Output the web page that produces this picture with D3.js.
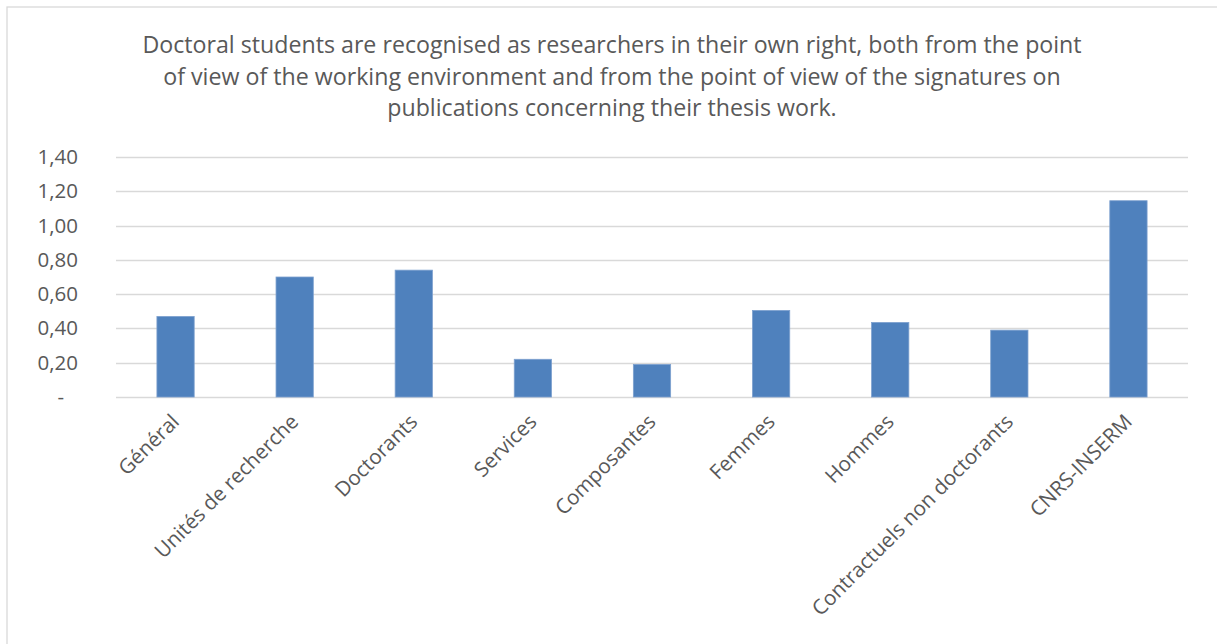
<!DOCTYPE html>
<html>
<head>
<meta charset="utf-8">
<script src="https://cdn.jsdelivr.net/npm/d3@7"></script>
<style>
  html, body { margin: 0; padding: 0; background: #fff; }
  svg { display: block; }
  text { font-family: "Open Sans", Lato, "DejaVu Sans", sans-serif; fill: #595959; }
</style>
</head>
<body>
<svg id="chart" width="1217" height="644"></svg>
<script>
// Category labels along the horizontal axis
const categories = [
  "Général", "Unités de recherche", "Doctorants", "Services", "Composantes",
  "Femmes", "Hommes", "Contractuels non doctorants", "CNRS-INSERM"
];
// Mean score per group
const values = [0.47, 0.70, 0.74, 0.22, 0.19, 0.505, 0.435, 0.39, 1.145];
// Vertical axis ticks
const yTicks = [0, 0.2, 0.4, 0.6, 0.8, 1.0, 1.2, 1.4];
const titleLines = [
  "Doctoral students are recognised as researchers in their own right, both from the point",
  "of view of the working environment and from the point of view of the signatures on",
  "publications concerning their thesis work."
];

const svg = d3.select("#chart");
const W = 1217, H = 644;
const plot = { left: 116, right: 1188, top: 157, bottom: 397 };

// Chart frame
svg.append("rect")
  .attr("x", 7).attr("y", 7)
  .attr("width", W + 10).attr("height", H + 10)
  .attr("fill", "#fff").attr("stroke", "#d9d9d9").attr("stroke-width", 1.3);

// Title
svg.append("g").selectAll("text").data(titleLines).join("text")
  .attr("x", 612).attr("y", (d, i) => 53 + i * 31.5)
  .attr("text-anchor", "middle")
  .style("font-size", "23.2px")
  .text(d => d);

const x = d3.scaleBand().domain(categories)
  .range([plot.left, plot.right]).paddingInner(0.687).paddingOuter(0.3435);
const y = d3.scaleLinear().domain([0, 1.4]).range([plot.bottom, plot.top]);

const fmt = v => v === 0 ? "-" : d3.format(".2f")(v).replace(".", ",");

// Gridlines
svg.append("g").selectAll("line").data(yTicks).join("line")
  .attr("x1", plot.left).attr("x2", plot.right)
  .attr("y1", d => Math.round(y(d)) + 0.5).attr("y2", d => Math.round(y(d)) + 0.5)
  .attr("stroke", "#d9d9d9").attr("stroke-width", 1.3);

// Y axis labels
const yAxis = d3.axisLeft(y).tickValues(yTicks).tickFormat(fmt).tickSize(0).tickPadding(0);
const gy = svg.append("g").attr("transform", "translate(78,0)").call(yAxis);
gy.select(".domain").remove();
gy.selectAll("text").style("font-size", "20.5px").attr("fill", "#595959")
  .attr("x", d => d === 0 ? -14 : 0);

// Bars
svg.append("g").selectAll("rect").data(values).join("rect")
  .attr("x", (d, i) => x(categories[i]))
  .attr("width", x.bandwidth())
  .attr("y", d => y(d))
  .attr("height", d => y(0) - y(d))
  .attr("fill", "#4f81bd")
  .attr("stroke", "#7ea1cf").attr("stroke-width", 0.8);

// Category labels, rotated
const xAxis = d3.axisBottom(x).tickSize(0).tickPadding(0);
const gx = svg.append("g").attr("transform", `translate(0,${plot.bottom})`).call(xAxis);
gx.select(".domain").remove();
gx.selectAll("text")
  .style("font-size", "20.6px").attr("fill", "#595959")
  .attr("text-anchor", "end")
  .attr("dy", null).attr("y", 0)
  .attr("transform", "translate(5,26) rotate(-45)");
</script>
</body>
</html>
